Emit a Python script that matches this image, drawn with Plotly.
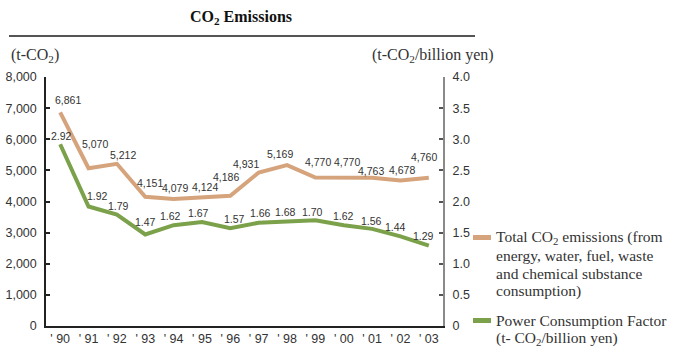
import plotly.graph_objects as go

# ---- data ----
years = ["' 90", "' 91", "' 92", "' 93", "' 94", "' 95", "' 96",
         "' 97", "' 98", "' 99", "' 00", "' 01", "' 02", "' 03"]
total_co2 = [6861, 5070, 5212, 4151, 4079, 4124, 4186,
             4931, 5169, 4770, 4770, 4763, 4678, 4760]
power_factor = [2.92, 1.92, 1.79, 1.47, 1.62, 1.67, 1.57,
                1.66, 1.68, 1.70, 1.62, 1.56, 1.44, 1.29]

left_ticks = [0, 1000, 2000, 3000, 4000, 5000, 6000, 7000, 8000]
right_ticks = [0, 0.5, 1.0, 1.5, 2.0, 2.5, 3.0, 3.5, 4.0]
right_ticktext = ["0", "0.5", "1.0", "1.5", "2.0", "2.5", "3.0", "3.5", "4.0"]

# label nudges (pixels) so value labels sit clear of the lines
co2_label_shift = [(8, 12), (6, 24), (6, 9), (5, 14), (1, 11), (3, 11), (-4, 19),
                   (-13, 9), (-7, 11), (3, 16), (3, 16), (-1, 7), (2, 10), (-5, 21)]
pf_label_shift = [(1, 8), (9, 10), (2, 9), (0, 12), (-3, 9), (-3, 9), (4, 9),
                  (2, 10), (-2, 9), (-3, 8), (0, 9), (-1, 8), (-5, 9), (-5, 10)]

ORANGE = "#D5A47C"
GREEN = "#7BA14A"
TEXT = "#333333"
SERIF = "Liberation Serif, Times New Roman, serif"
SANS = "Liberation Sans, Arial, sans-serif"

W, H = 683, 347
L, R, T, B = 46, 240, 77, 21
PW, PH = W - L - R, H - T - B


def px(x):
    return (x - L) / PW


def py(y):
    return (H - B - y) / PH


x_idx = list(range(len(years)))

fig = go.Figure()
fig.add_trace(go.Scatter(
    x=x_idx, y=total_co2, mode="lines", yaxis="y",
    line=dict(color=ORANGE, width=4), name="Total CO2 emissions",
    showlegend=False, hoverinfo="skip"))
fig.add_trace(go.Scatter(
    x=x_idx, y=power_factor, mode="lines", yaxis="y2",
    line=dict(color=GREEN, width=4), name="Power Consumption Factor",
    showlegend=False, hoverinfo="skip"))

annotations = []
for i, v in enumerate(total_co2):
    dx, dy = co2_label_shift[i]
    annotations.append(dict(
        x=i, y=v, xref="x", yref="y", text=f"{v:,}", showarrow=False,
        xshift=dx, yshift=dy, font=dict(family=SANS, size=10.5, color=TEXT)))
for i, v in enumerate(power_factor):
    dx, dy = pf_label_shift[i]
    annotations.append(dict(
        x=i, y=v, xref="x", yref="y2", text=f"{v:.2f}", showarrow=False,
        xshift=dx, yshift=dy, font=dict(family=SANS, size=10.5, color=TEXT)))

# title and unit captions
annotations.append(dict(
    x=px(241), y=py(18), xref="paper", yref="paper", showarrow=False,
    text="<b>CO<sub>2</sub> Emissions</b>", xanchor="center", yanchor="middle",
    font=dict(family=SERIF, size=16, color="#111111")))
annotations.append(dict(
    x=px(9), y=py(55), xref="paper", yref="paper", showarrow=False,
    text="(t-CO<sub>2</sub>)", xanchor="left", yanchor="middle",
    font=dict(family=SERIF, size=16, color=TEXT)))
annotations.append(dict(
    x=px(370), y=py(55), xref="paper", yref="paper", showarrow=False,
    text="(t-CO<sub>2</sub>/billion yen)", xanchor="left", yanchor="middle",
    font=dict(family=SERIF, size=16, color=TEXT)))

# legend text
legend_lines = [
    (237, "Total CO<sub>2</sub> emissions (from"),
    (255, "energy, water, fuel, waste"),
    (273, "and chemical substance"),
    (291, "consumption)"),
    (320, "Power Consumption Factor"),
    (338, "(t- CO<sub>2</sub>/billion yen)"),
]
for y, txt in legend_lines:
    annotations.append(dict(
        x=px(494), y=py(y), xref="paper", yref="paper", showarrow=False,
        text=txt, xanchor="left", yanchor="middle",
        font=dict(family=SERIF, size=15.5, color=TEXT)))

shapes = [
    # rule under the title
    dict(type="line", xref="paper", yref="paper",
         x0=px(9), x1=px(475), y0=py(36), y1=py(36),
         line=dict(color="#555555", width=2)),
    # legend swatches
    dict(type="rect", xref="paper", yref="paper",
         x0=px(473), x1=px(491), y0=py(240), y1=py(235),
         fillcolor=ORANGE, line=dict(width=0)),
    dict(type="rect", xref="paper", yref="paper",
         x0=px(473), x1=px(491), y0=py(323), y1=py(318),
         fillcolor=GREEN, line=dict(width=0)),
]

fig.update_layout(
    width=W, height=H,
    margin=dict(l=L, r=R, t=T, b=B, pad=0, autoexpand=False),
    paper_bgcolor="white", plot_bgcolor="white",
    showlegend=False,
    annotations=annotations, shapes=shapes,
    xaxis=dict(
        range=[-0.5, len(years) - 0.5], tickmode="array",
        tickvals=x_idx, ticktext=years, showgrid=False, zeroline=False,
        showline=True, linecolor="#222222", linewidth=1.5, ticks="",
        automargin=False,
        tickfont=dict(family=SANS, size=12.5, color=TEXT), fixedrange=True),
    yaxis=dict(
        range=[0, 8000], tickmode="array", tickvals=left_ticks,
        tickformat=",", showgrid=False, zeroline=False,
        showline=True, linecolor="#222222", linewidth=1.5,
        ticks="inside", ticklen=4, tickcolor="#222222", tickwidth=1.5,
        ticklabelstandoff=5, automargin=False,
        tickfont=dict(family=SANS, size=12.5, color=TEXT)),
    yaxis2=dict(
        range=[0, 4], overlaying="y", side="right", tickmode="array",
        tickvals=right_ticks, ticktext=right_ticktext,
        showgrid=False, zeroline=False,
        showline=True, linecolor="#8a8a8a", linewidth=2,
        ticks="inside", ticklen=4, tickcolor="#555555", tickwidth=1.5,
        ticklabelstandoff=5, automargin=False,
        tickfont=dict(family=SANS, size=12.5, color=TEXT)),
)

fig.write_html("out.html")
